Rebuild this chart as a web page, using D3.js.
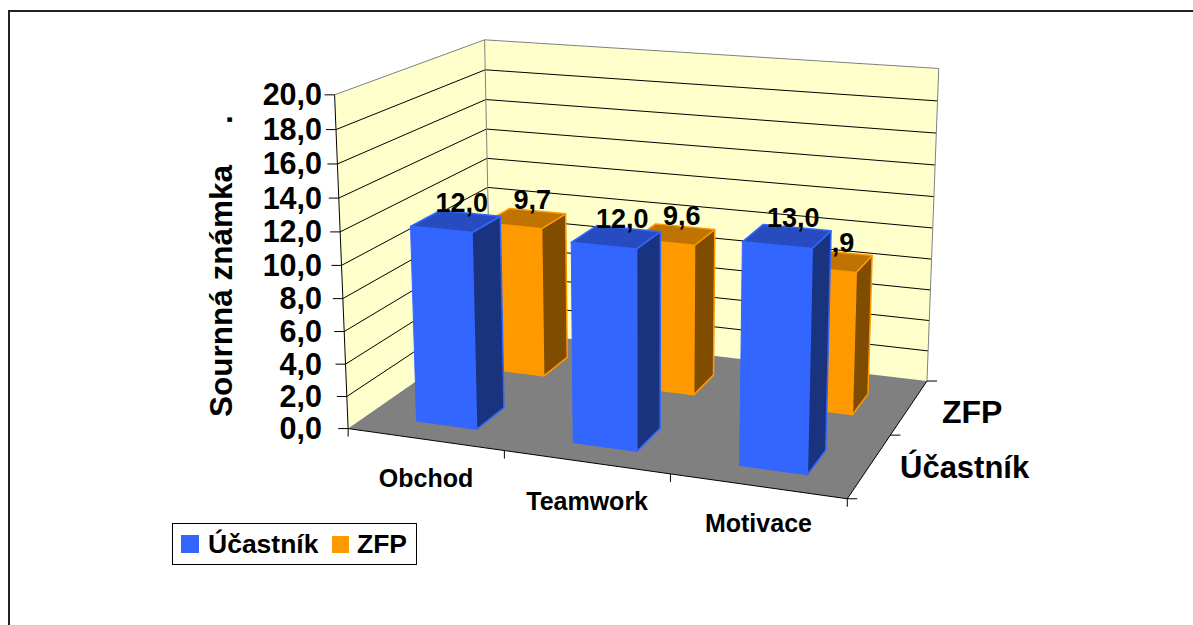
<!DOCTYPE html>
<html><head><meta charset="utf-8">
<script src="https://cdn.jsdelivr.net/npm/d3@7"></script>
<style>
html,body{margin:0;padding:0;background:#fff}
svg{display:block}
text{font-family:"Liberation Sans",Arial,sans-serif;font-weight:bold;fill:#000}
</style></head><body>
<svg id="chart" width="1193" height="625"></svg>
<script>
// Chart content
const categories = ["Obchod", "Teamwork", "Motivace"];
const seriesNames = ["Účastník", "ZFP"];
const ucastnik = [12.0, 12.0, 13.0];
const zfp = [9.7, 9.6, 8.9];
const valueTicks = [0, 2, 4, 6, 8, 10, 12, 14, 16, 18, 20];
const axisTitle = "Sournná známka";
const comma = d => d.toFixed(1).replace(".", ",");

// Box corners on the page: [unit x, unit y, unit z, page x, page y]
const anchors = [
  [0,0,0,348,431],[1,0,0,847,497],[0,0,1,491,327],[1,0,1,927,383],
  [0,1,0,335,94],[0,1,1,484,41],[1,1,1,939,68]
];

// Least-squares perspective camera through the anchors (p34 = 1)
function solveCamera(pts){
  const rows=[],rhs=[];
  pts.forEach(([x,y,z,u,v])=>{
    rows.push([x,y,z,1,0,0,0,0,-u*x,-u*y,-u*z]); rhs.push(u);
    rows.push([0,0,0,0,x,y,z,1,-v*x,-v*y,-v*z]); rhs.push(v);
  });
  const n=11, M=d3.range(n).map(i=>d3.range(n+1).map(j=>
    d3.sum(rows,(r,k)=>r[i]*(j<n?r[j]:rhs[k]))));
  for(let c=0;c<n;c++){
    let p=c; for(let r=c+1;r<n;r++) if(Math.abs(M[r][c])>Math.abs(M[p][c])) p=r;
    [M[c],M[p]]=[M[p],M[c]];
    for(let r=0;r<n;r++) if(r!==c){
      const f=M[r][c]/M[c][c];
      for(let j=c;j<=n;j++) M[r][j]-=f*M[c][j];
    }
  }
  return M.map((r,i)=>r[n]/r[i]);
}
const cam = solveCamera(anchors);
function project(x,y,z){
  const w=cam[8]*x+cam[9]*y+cam[10]*z+1;
  return [(cam[0]*x+cam[1]*y+cam[2]*z+cam[3])/w,(cam[4]*x+cam[5]*y+cam[6]*z+cam[7])/w];
}
const yScale = d3.scaleLinear().domain([0,20]).range([0,1]);
const xBand = d3.scaleBand().domain(categories).range([0,1]);
const zBand = d3.scaleBand().domain(seriesNames).range([0,1]);
const barPad = {x0:0.32,x1:0.71,z0:0.25,z1:0.64};

const svg = d3.select("#chart");
const line = d3.line();
const poly = (pts,fill,stroke,sw=1)=>svg.append("path")
  .attr("d",line(pts)+"Z").attr("fill",fill)
  .attr("stroke",stroke||"none").attr("stroke-width",sw).attr("stroke-linejoin","round");
const seg = (a,b,color="#000",sw=1)=>svg.append("path").attr("d",line([a,b]))
  .attr("fill","none").attr("stroke",color).attr("stroke-width",sw);
const label = (t,x,y,size,anchor="middle")=>svg.append("text").text(t)
  .attr("x",x).attr("y",y).attr("font-size",size).attr("text-anchor",anchor);

// Outer chart frame, running off the right and bottom of the page
svg.append("path").attr("d","M9,625V11H1193").attr("fill","none").attr("stroke","#222").attr("stroke-width",2);

// Walls and floor
const wallFill="#FFFFCC", edge="#808080";
poly([project(0,0,0),project(0,1,0),project(0,1,1),project(0,0,1)],wallFill);
poly([project(0,0,1),project(0,1,1),project(1,1,1),project(1,0,1)],wallFill);
poly([project(0,0,0),project(1,0,0),project(1,0,1),project(0,0,1)],"#808080");
valueTicks.forEach(v=>{
  const y=yScale(v), col=(v===20)?edge:"#000";
  if(v>0){
    seg(project(0,y,0),project(0,y,1),col);
    seg(project(0,y,1),project(1,y,1),col);
  }
  const p=project(0,y,0);
  seg([p[0]-10,p[1]],p,"#000");
  label(comma(v),322,p[1]+10.5,30.5,"end");
});
seg(project(0,0,0),project(0,1,0),"#000");
seg(project(0,0,1),project(0,1,1),edge);
seg(project(1,0,1),project(1,1,1),edge);

// Floor edges and their ticks
seg(project(0,0,0),project(1,0,0),"#000");
seg(project(1,0,0),project(1,0,1),"#000");
d3.range(0,4).forEach(i=>{
  const p=project(i/3,0,0);
  seg(p,[p[0],p[1]+8],"#000");
});
[0,0.5,1].forEach(z=>{
  const p=project(1,0,z);
  seg(p,[p[0]+10,p[1]],"#000");
});

// One column: only the three faces the camera can see
function column(i,s,value,colors){
  const cat=categories[i], b=xBand.bandwidth(), d=zBand.bandwidth();
  const x0=xBand(cat)+b*barPad.x0, x1=xBand(cat)+b*barPad.x1;
  const z0=zBand(s)+d*barPad.z0, z1=zBand(s)+d*barPad.z1;
  const h=yScale(value);
  poly([project(x0,0,z0),project(x1,0,z0),project(x1,h,z0),project(x0,h,z0)],colors.front,colors.front,1);
  poly([project(x1,0,z0),project(x1,0,z1),project(x1,h,z1),project(x1,h,z0)],colors.side,colors.front,1.5);
  poly([project(x0,h,z0),project(x1,h,z0),project(x1,h,z1),project(x0,h,z1)],colors.top,colors.front,1.5);
  return project((x0+x1)/2,h,(z0+z1)/2);
}
const blue={front:"#3366FF",side:"#19337F",top:"#264CBF"};
const orange={front:"#FF9900",side:"#7F4C00",top:"#BF7300"};

// Back row with its labels first, so the front row covers them
zfp.forEach((v,i)=>{
  const c=column(i,"ZFP",v,orange);
  label(comma(v),c[0]+[7,7,3][i],c[1]-9,27);
});
ucastnik.forEach((v,i)=>{
  const c=column(i,"Účastník",v,blue);
  label(comma(v),c[0]+6,c[1]-9,27);
});

// Category and series names along the floor
categories.forEach((c,i)=>{
  const p=project(xBand(c)+xBand.bandwidth()/2,0,0);
  label(c,p[0]+1,p[1]+[48,48,46][i],25);
});
label("ZFP",942,423,32,"start");
label("Účastník",900,478,31,"start");

// Value axis title, with the stray full stop further along the same line
svg.append("text").text(axisTitle).attr("font-size",31.5)
  .attr("transform","translate(232,417) rotate(-90)");
svg.append("text").text(".").attr("font-size",31.5)
  .attr("transform","translate(232,124) rotate(-90)");

// Legend
svg.append("rect").attr("x",172.5).attr("y",523.5).attr("width",244).attr("height",41)
  .attr("fill","#fff").attr("stroke","#000");
svg.append("rect").attr("x",181).attr("y",535).attr("width",18).attr("height",18).attr("fill",blue.front);
label(seriesNames[0],208,553,26.5,"start");
svg.append("rect").attr("x",332).attr("y",536).attr("width",17).attr("height",17).attr("fill",orange.front);
label(seriesNames[1],357,553,26.5,"start");
</script>
</body></html>
